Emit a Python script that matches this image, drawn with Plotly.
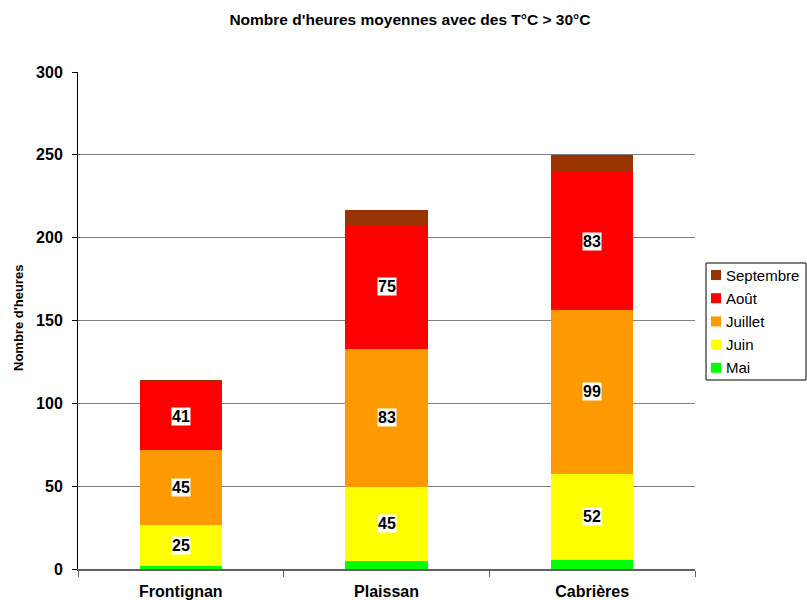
import plotly.graph_objects as go

categories = ["Frontignan", "Plaissan", "Cabrières"]
series_names = ["Mai", "Juin", "Juillet", "Août", "Septembre"]
mai = [1.6, 4.8, 5.4]
juin = [25, 45, 52]
juillet = [45, 83, 99]
aout = [41, 75, 83]
septembre = [1.4, 9.2, 10.6]
colors = ["#00FF00", "#FFFF00", "#FF9900", "#FF0000", "#993300"]
labelled = [False, True, True, True, False]
y_ticks = [0, 50, 100, 150, 200, 250, 300]

series = [mai, juin, juillet, aout, septembre]
FONT = "Arial, 'Liberation Sans', sans-serif"
W, H = 807, 600
ML, MR, MT, MB = 78, 112, 72, 31
pw = W - ML - MR
ph = H - MT - MB

fig = go.Figure()
for name, vals, col in zip(series_names, series, colors):
    fig.add_trace(go.Bar(x=categories, y=vals, name=name, marker_color=col,
                         marker_line_width=0, showlegend=False))

# value labels at segment midpoints
cum = [0.0] * len(categories)
for vals, show in zip(series, labelled):
    for i, v in enumerate(vals):
        if show:
            fig.add_annotation(x=categories[i], y=cum[i] + v / 2, text="<b>%d</b>" % round(v),
                               showarrow=False, bgcolor="white", borderpad=0,
                               font=dict(family=FONT, size=16, color="black"))
        cum[i] += v

# custom legend (Septembre on top)
fig.add_shape(type="rect", xref="paper", yref="paper",
              x0=(706 - ML) / pw, x1=(806 - ML) / pw,
              y0=(H - MB - 380) / ph, y1=(H - MB - 263) / ph,
              line=dict(color="black", width=1), fillcolor="white")
for k, (name, col) in enumerate(zip(reversed(series_names), reversed(colors))):
    yc = 275 + k * 23.2
    fig.add_shape(type="rect", xref="paper", yref="paper",
                  x0=(711 - ML) / pw, x1=(721 - ML) / pw,
                  y0=(H - MB - (yc + 5)) / ph, y1=(H - MB - (yc - 5)) / ph,
                  line=dict(width=0), fillcolor=col)
    fig.add_annotation(xref="paper", yref="paper", x=(724 - ML) / pw, y=(H - MB - yc) / ph,
                       text=name, showarrow=False, xanchor="left", yanchor="middle",
                       font=dict(family=FONT, size=15, color="black"))

# y-axis title
fig.add_annotation(xref="paper", yref="paper", x=(18 - ML) / pw, y=(H - MB - 318) / ph,
                   text="<b>Nombre d'heures</b>", textangle=-90, showarrow=False,
                   xanchor="center", yanchor="middle",
                   font=dict(family=FONT, size=13, color="black"))

fig.update_layout(
    barmode="stack", bargap=0.6,
    width=W, height=H,
    margin=dict(l=ML, r=MR, t=MT, b=MB, autoexpand=False),
    paper_bgcolor="white", plot_bgcolor="white",
    font=dict(family=FONT, size=12, color="black"),
    title=dict(text="<b>Nombre d'heures moyennes avec des T°C > 30°C</b>",
               x=0.508, xref="container", xanchor="center",
               y=1 - 20 / 600, yref="container", yanchor="middle",
               font=dict(size=15.5, family=FONT)),
    showlegend=False,
)
fig.update_yaxes(range=[0, 300], showgrid=True, gridcolor="#808080", gridwidth=1,
                 showline=True, linecolor="black", linewidth=1,
                 ticks="outside", ticklen=5, tickcolor="black",
                 tickvals=y_ticks, ticktext=["<b>%d</b>" % v for v in y_ticks],
                 tickfont=dict(size=16, family=FONT), ticklabelstandoff=6,
                 zeroline=False, automargin=False)
fig.update_xaxes(showline=True, linecolor="#606060", linewidth=2,
                 ticks="outside", tickson="boundaries", ticklen=6, tickcolor="#606060",
                 tickvals=categories, ticktext=["<b>%s</b>" % c for c in categories],
                 tickfont=dict(size=16, family=FONT), ticklabelstandoff=7,
                 automargin=False)

fig.write_html("out.html", config={"displayModeBar": False},
               post_script="document.body.style.margin='0';")
